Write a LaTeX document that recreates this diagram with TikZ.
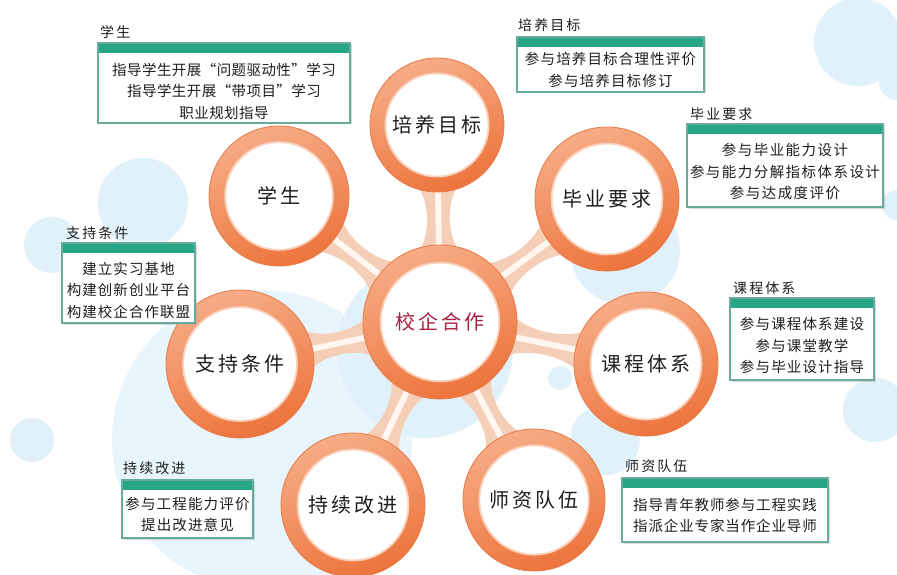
\documentclass[tikz,border=0pt]{standalone}
\usepackage{fontspec}
\setmainfont{Noto Sans CJK SC}
\usetikzlibrary{shadows,calc}
\definecolor{bubble}{RGB}{224,241,250}
\definecolor{bubblelt}{RGB}{232,245,252}
\definecolor{ringtop}{RGB}{246,172,134}
\definecolor{ringbot}{RGB}{237,116,60}
\definecolor{ringedge}{RGB}{233,122,72}
\definecolor{innerline}{RGB}{250,208,186}
\definecolor{neckcol}{RGB}{245,206,184}
\definecolor{neckhi}{RGB}{255,246,240}
\definecolor{centred}{RGB}{170,32,62}
\definecolor{hdr}{RGB}{38,166,132}
\definecolor{boxedge}{RGB}{104,170,156}
\definecolor{txt}{RGB}{30,30,30}
\pgfdeclarelayer{bubbles}
\pgfdeclarelayer{necks}
\pgfsetlayers{bubbles,necks,main}
\tikzset{
  bigring/.style={circle, minimum size=2*#1, inner sep=0pt, draw=ringedge, line width=0.8pt,
    top color=ringtop, bottom color=ringbot, shading angle=20,
    path picture={
      \fill[white] (path picture bounding box.center) circle[radius=0.77*#1];
      \draw[innerline, line width=1.8pt] (path picture bounding box.center) circle[radius=0.77*#1];
    },
    text=txt, font=\fontsize{20}{24}\selectfont\addfontfeature{LetterSpace=15}},
  neckfill/.style={fill=neckcol},
  neckglow/.style={draw=neckhi, line width=6pt, line cap=round},
  infobox/.style={draw=boxedge, line width=1.2pt, fill=white, inner sep=0pt,
    drop shadow={shadow xshift=1.5pt, shadow yshift=-1.5pt, fill=black!35, opacity=0.4},
    path picture={
      \fill[hdr] (path picture bounding box.north west) rectangle ([yshift=-10pt]path picture bounding box.north east);
    }},
  boxtext/.style={align=center, text=txt, inner sep=0pt,
    font=\fontsize{14.5}{21.5}\selectfont\addfontfeature{LetterSpace=#1}},
  boxtitle/.style={anchor=west, text=txt, inner sep=0pt,
    font=\fontsize{14}{16}\selectfont\addfontfeature{LetterSpace=15}},
}
\begin{document}
\begin{tikzpicture}[x=1pt,y=-1pt]
\useasboundingbox (0,0) rectangle (897,575);
\begin{pgfonlayer}{bubbles}
  \fill[white] (0,0) rectangle (897,575);
  \fill[bubblelt] (262,440) circle[radius=150pt];
  \fill[bubble] (425,350) circle[radius=88pt];
  \fill[bubble] (143,203) circle[radius=45pt];
  \fill[bubble] (52,245) circle[radius=28pt];
  \fill[bubble] (32,440) circle[radius=22pt];
  \fill[bubble] (858,42) circle[radius=44pt];
  \fill[bubble] (897,82) circle[radius=18pt];
  \fill[bubble] (897,205) circle[radius=15pt];
  \fill[bubble] (625,250) circle[radius=55pt];
  \fill[bubble] (875,410) circle[radius=32pt];
  \fill[bubble] (560,378) circle[radius=12pt];
  \fill[bubble] (605,440) circle[radius=35pt];
\end{pgfonlayer}

% circles
\node[bigring=67pt] (n1) at (437,125) {培养目标};
\node[bigring=72pt] (n2) at (607,199) {毕业要求};
\node[bigring=72pt] (n3) at (646,364) {课程体系};
\node[bigring=71pt] (n4) at (534,500) {师资队伍};
\node[bigring=72pt] (n5) at (353,505) {持续改进};
\node[bigring=74pt] (n6) at (240,364) {支持条件};
\node[bigring=70pt] (n7) at (279,196) {学生};
\node[bigring=77pt, text=centred] (c) at (440,322) {校企合作};

% flared necks between the centre and each outer circle
\begin{pgfonlayer}{necks}
  \foreach \nd/\rr in {n1/67,n2/72,n3/72,n4/71,n5/72,n6/74,n7/70}{
    \path[neckfill] let \p1=($(\nd.center)-(c.center)$),
        \n1={atan2(\y1,\x1)}, \n2={veclen(\x1,\y1)},
        \n3={70pt}, \n4={\n2-\rr pt+7pt}, \n6={(\n3+(\n3+\n4)/2)/2}, \n7={(\n4+(\n3+\n4)/2)/2} in
      [shift={(c.center)}, rotate=\n1]
      (\n3,21pt) .. controls (\n6,8pt) and (\n7,8pt) .. (\n4,21pt)
      -- (\n4,-21pt) .. controls (\n7,-8pt) and (\n6,-8pt) .. (\n3,-21pt)
      -- cycle;
    \draw[neckglow] (c) -- (\nd);
  }
\end{pgfonlayer}

% info boxes
\node[boxtitle] (t7) at (100,32) {学生};
\node[infobox, minimum width=252pt, minimum height=80pt] (b7) at (224,83) {};
\node[boxtext=3] (x7) at (224,91) {指导学生开展“问题驱动性”学习\\指导学生开展“带项目”学习\\职业规划指导};

\node[boxtitle] (t1) at (518,25) {培养目标};
\node[infobox, minimum width=187pt, minimum height=55pt] (b1) at (610.5,64.5) {};
\node[boxtext=8] (x1) at (610.5,70) {参与培养目标合理性评价\\参与培养目标修订};

\node[boxtitle] (t2) at (690,114) {毕业要求};
\node[infobox, minimum width=196pt, minimum height=83pt] (b2) at (785,165.5) {};
\node[boxtext=10] (x2) at (785,172) {参与毕业能力设计\\参与能力分解指标体系设计\\参与达成度评价};

\node[boxtitle] (t6) at (66,233) {支持条件};
\node[infobox, minimum width=133pt, minimum height=80pt] (b6) at (128.5,283) {};
\node[boxtext=7] (x6) at (128.5,290) {建立实习基地\\构建创新创业平台\\构建校企合作联盟};

\node[boxtitle] (t3) at (733,288) {课程体系};
\node[infobox, minimum width=144pt, minimum height=82pt] (b3) at (802,339) {};
\node[boxtext=8] (x3) at (802,345.5) {参与课程体系建设\\参与课堂教学\\参与毕业设计指导};

\node[boxtitle] (t5) at (123,468) {持续改进};
\node[infobox, minimum width=131pt, minimum height=58pt] (b5) at (187.5,509) {};
\node[boxtext=8] (x5) at (187.5,514.5) {参与工程能力评价\\提出改进意见};

\node[boxtitle] (t4) at (625,466) {师资队伍};
\node[infobox, minimum width=206pt, minimum height=64pt] (b4) at (725,510) {};
\node[boxtext=6] (x4) at (725,515.5) {指导青年教师参与工程实践\\指派企业专家当作企业导师};
\end{tikzpicture}
\end{document}
